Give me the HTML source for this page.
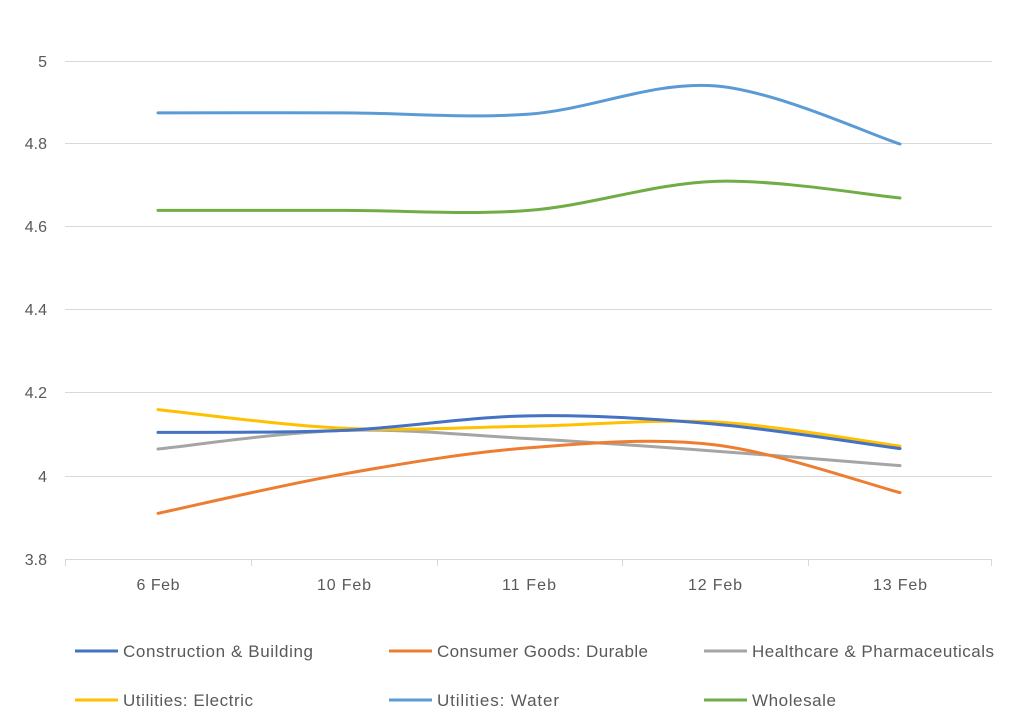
<!DOCTYPE html>
<html><head><meta charset="utf-8"><style>
html,body{margin:0;padding:0;background:#fff;}
svg{display:block;font-family:"Liberation Sans",sans-serif;}
</style></head><body>
<svg id="s" width="1024" height="728" viewBox="0 0 1024 728">
<rect x="0" y="0" width="1024" height="728" fill="#fff"/>
<g stroke="#d9d9d9" stroke-width="1">
<line x1="65" y1="61.5" x2="992" y2="61.5"/>
<line x1="65" y1="143.5" x2="992" y2="143.5"/>
<line x1="65" y1="226.5" x2="992" y2="226.5"/>
<line x1="65" y1="309.5" x2="992" y2="309.5"/>
<line x1="65" y1="392.5" x2="992" y2="392.5"/>
<line x1="65" y1="476.5" x2="992" y2="476.5"/>
<line x1="65" y1="559.5" x2="992" y2="559.5"/>
<line x1="65.5" y1="559" x2="65.5" y2="566"/>
<line x1="251.5" y1="559" x2="251.5" y2="566"/>
<line x1="437.5" y1="559" x2="437.5" y2="566"/>
<line x1="622.5" y1="559" x2="622.5" y2="566"/>
<line x1="808.5" y1="559" x2="808.5" y2="566"/>
<line x1="991.5" y1="559" x2="991.5" y2="566"/>
</g>
<g fill="#595959" font-size="16" text-anchor="end">
<text x="47" y="67">5</text><text x="47" y="149">4.8</text><text x="47" y="232">4.6</text>
<text x="47" y="315">4.4</text><text x="47" y="398">4.2</text><text x="47" y="482">4</text><text x="47" y="565">3.8</text>
</g>
<g fill="#595959" font-size="16" text-anchor="middle">
<text x="158" y="590" textLength="43">6 Feb</text><text x="344" y="590" textLength="54">10 Feb</text><text x="529" y="590" textLength="54">11 Feb</text>
<text x="715" y="590" textLength="54">12 Feb</text><text x="900" y="590" textLength="54">13 Feb</text>
</g>
<g id="lines" fill="none" stroke-width="3" stroke-linecap="round"></g>
<g stroke-width="3">
<line x1="75" y1="651" x2="118" y2="651" stroke="#4472c4"/>
<line x1="389" y1="651" x2="432" y2="651" stroke="#ed7d31"/>
<line x1="704" y1="651" x2="747" y2="651" stroke="#a5a5a5"/>
<line x1="75" y1="700" x2="118" y2="700" stroke="#ffc000"/>
<line x1="389" y1="700" x2="432" y2="700" stroke="#5b9bd5"/>
<line x1="704" y1="700" x2="747" y2="700" stroke="#70ad47"/>
</g>
<g fill="#595959" font-size="17">
<text x="123" y="657" textLength="190">Construction &amp; Building</text>
<text x="437" y="657" textLength="211">Consumer Goods: Durable</text>
<text x="752" y="657" textLength="242">Healthcare &amp; Pharmaceuticals</text>
<text x="123" y="706" textLength="130">Utilities: Electric</text>
<text x="437" y="706" textLength="122">Utilities: Water</text>
<text x="752" y="706" textLength="84">Wholesale</text>
</g>
</svg>
<script>
var xs=[158,344,529,715,900];
function y(v){return 61+(5-v)*415;}
var series=[
["#5b9bd5",[4.875,4.875,4.872,4.94,4.80]],
["#70ad47",[4.64,4.64,4.64,4.71,4.67]],
["#a5a5a5",[4.065,4.11,4.09,4.06,4.025]],
["#ed7d31",[3.91,4.005,4.068,4.075,3.96]],
["#ffc000",[4.16,4.115,4.12,4.13,4.072]],
["#4472c4",[4.105,4.11,4.145,4.125,4.066]]];
var g=document.getElementById('lines');
series.forEach(function(s){
 var p=xs.map(function(x,i){return [x,y(s[1][i])];});
 var d="M"+p[0][0]+","+p[0][1];
 var t=1/6;
 for(var i=0;i<p.length-1;i++){
  var p0=p[Math.max(i-1,0)],p1=p[i],p2=p[i+1],p3=p[Math.min(i+2,p.length-1)];
  var c1=[p1[0]+(p2[0]-p0[0])*t,p1[1]+(p2[1]-p0[1])*t];
  var c2=[p2[0]-(p3[0]-p1[0])*t,p2[1]-(p3[1]-p1[1])*t];
  d+=" C"+c1+" "+c2+" "+p2;
 }
 var e=document.createElementNS("http://www.w3.org/2000/svg","path");
 e.setAttribute("d",d);e.setAttribute("stroke",s[0]);g.appendChild(e);
});
</script>
</body></html>
